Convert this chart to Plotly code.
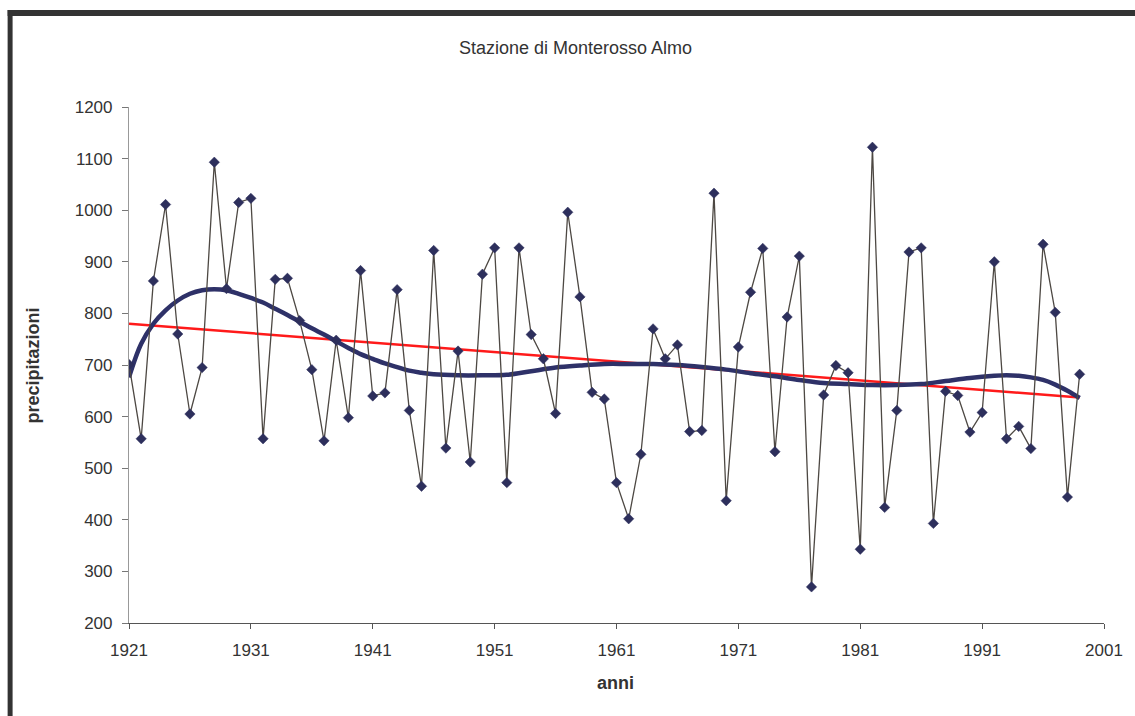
import plotly.graph_objects as go

# ---- data ----
years = list(range(1921, 2000))
precip = [701, 557, 863, 1011, 760, 605, 695, 1093, 848, 1015,
          1023, 557, 866, 868, 786, 691, 553, 748, 598, 883,
          640, 646, 846, 612, 465, 922, 539, 727, 512, 876,
          927, 472, 927, 759, 712, 606, 996, 832, 647, 634,
          472, 402, 527, 770, 712, 739, 571, 573, 1033, 437,
          735, 841, 926, 532, 793, 911, 270, 642, 699, 685,
          343, 1122, 424, 612, 919, 927, 393, 649, 641, 570,
          608, 900, 557, 581, 538, 934, 802, 444, 682]

# linear trend (endpoints)
lin_years = [1921, 1999]
lin_vals = [780, 637]

# polynomial trend curve
poly_years = [1921, 1922, 1923, 1924, 1925, 1926, 1927, 1928, 1929, 1930,
              1931, 1932, 1933, 1934, 1935, 1936, 1937, 1938, 1939, 1940,
              1941, 1942, 1943, 1944, 1945, 1946, 1948, 1950, 1952, 1954,
              1956, 1958, 1960, 1962, 1964, 1966, 1968, 1970, 1972, 1974,
              1976, 1978, 1980, 1982, 1984, 1986, 1988, 1990, 1992, 1993,
              1994, 1995, 1996, 1997, 1998, 1999]
poly_vals = [676, 741, 780, 806, 825, 838, 845, 847, 845, 838,
             830, 821, 809, 797, 784, 771, 759, 746, 733, 721,
             712, 703, 696, 689, 685, 682, 680, 680, 681, 688,
             695, 699, 702, 702, 702, 700, 696, 691, 684, 678,
             671, 665, 663, 661, 661, 663, 669, 675, 679, 680,
             679, 676, 671, 662, 650, 636]

x_ticks = list(range(1921, 2002, 10))
y_ticks = list(range(200, 1201, 100))

# ---- figure ----
L, R, T, B = 129, 26, 107, 93
W, H = 1135, 716
pw, ph = W - L - R, H - T - B

def px(x):
    return (x - L) / pw

def py(y):
    return (H - B - y) / ph

FONT = "Liberation Sans, Arial, sans-serif"

fig = go.Figure()
fig.add_trace(go.Scatter(x=lin_years, y=lin_vals, mode="lines",
                         line=dict(color="#ff1a1a", width=2.5),
                         hoverinfo="skip", showlegend=False))
fig.add_trace(go.Scatter(x=poly_years, y=poly_vals, mode="lines",
                         line=dict(color="#2e3168", width=4.5, shape="spline", smoothing=1.0),
                         hoverinfo="skip", showlegend=False))
fig.add_trace(go.Scatter(x=years, y=precip, mode="lines+markers",
                         line=dict(color="#4d4843", width=1.3),
                         marker=dict(symbol="diamond", size=8, color="#2d2f5c",
                                     line=dict(color="#2d2f5c", width=0.5)),
                         showlegend=False))

fig.update_layout(
    width=W, height=H,
    margin=dict(l=L, r=R, t=T, b=B),
    paper_bgcolor="white", plot_bgcolor="white",
    font=dict(family=FONT, size=17, color="#333333"),
    xaxis=dict(range=[1921, 2001], tickvals=x_ticks, ticktext=[str(v) for v in x_ticks],
               showgrid=False, zeroline=False, showline=True, linecolor="#555555",
               linewidth=1, ticks="outside", ticklen=5, tickcolor="#555555",
               ticklabelstandoff=7,
               tickfont=dict(size=17, color="#333333")),
    yaxis=dict(range=[200, 1200], tickvals=y_ticks, showgrid=False, zeroline=False,
               showline=True, linecolor="#999999", linewidth=1.2, ticks="outside",
               ticklen=6, tickcolor="#777777", ticklabelstandoff=6,
               tickfont=dict(size=17, color="#333333")),
    annotations=[
        dict(text="Stazione di Monterosso Almo", x=px(578), y=py(48), xref="paper", yref="paper",
             showarrow=False, font=dict(size=18, color="#333333"), xanchor="center", yanchor="middle"),
        dict(text="<b>anni</b>", x=px(618), y=py(683), xref="paper", yref="paper",
             showarrow=False, font=dict(size=18, color="#333333"), xanchor="center", yanchor="middle"),
        dict(text="<b>precipitazioni</b>", x=px(33), y=py(365), xref="paper", yref="paper",
             showarrow=False, textangle=-90, font=dict(size=18, color="#333333"),
             xanchor="center", yanchor="middle"),
    ],
    shapes=[
        dict(type="rect", xref="paper", yref="paper", x0=px(7), x1=px(12), y0=py(730), y1=py(10),
             fillcolor="#333333", line=dict(width=0), layer="above"),
        dict(type="rect", xref="paper", yref="paper", x0=px(7), x1=px(1150), y0=py(16), y1=py(10),
             fillcolor="#333333", line=dict(width=0), layer="above"),
    ],
)

fig.write_html("out.html")
